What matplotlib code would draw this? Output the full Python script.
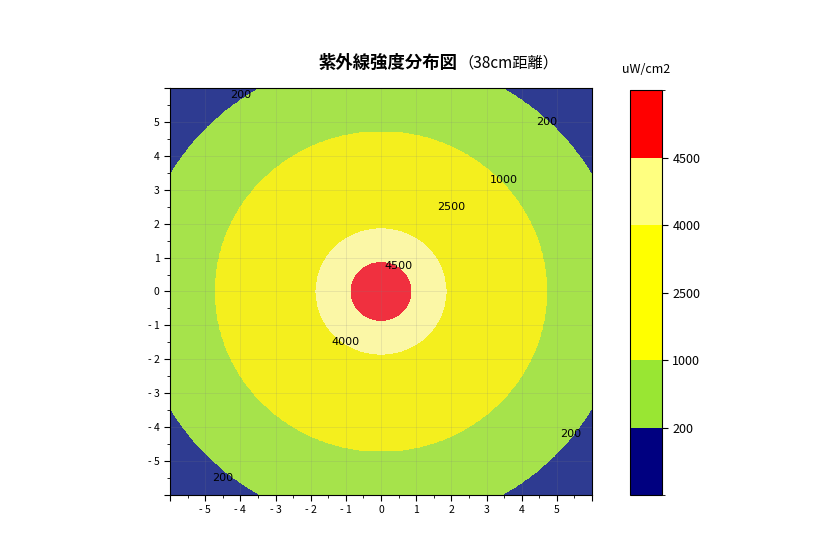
import numpy as np
import matplotlib
matplotlib.use("Agg")
import matplotlib.pyplot as plt
from matplotlib.colors import ListedColormap, BoundaryNorm
from matplotlib.ticker import FuncFormatter, MultipleLocator

plt.rcParams['font.family'] = ['Noto Sans CJK JP', 'DejaVu Sans']

# radial intensity profile (distance -> uW/cm2)
radius = [0.0, 0.85, 1.85, 3.3, 4.7, 6.9, 9.0]
intensity = [5000, 4500, 4000, 2500, 1000, 200, 0]
levels = [0, 200, 1000, 2500, 4000, 4500, 5000]
tick_levels = [200, 1000, 2500, 4000, 4500]
fill_colors = ['#2e3b91', '#a6e34b', '#f4ef1e', '#f4ef1e', '#fbf7a6', '#f0303f']
bar_colors = ['#000080', '#99e633', '#ffff00', '#ffff00', '#ffff80', '#ff0000']
labels = [('200', -4.0, 5.8), ('200', 4.7, 5.0), ('200', -4.5, -5.5), ('200', 5.4, -4.2),
          ('1000', 3.5, 3.3), ('2500', 2.0, 2.5), ('4500', 0.5, 0.75), ('4000', -1.0, -1.5)]

x = np.linspace(-6, 6, 241)
X, Y = np.meshgrid(x, x)
Z = np.interp(np.hypot(X, Y), radius, intensity)

fig = plt.figure(figsize=(8.4, 5.6), dpi=100)
ax = fig.add_axes([0.2024, 0.116, 0.5024, 0.727])
ax.contourf(X, Y, Z, levels=levels, colors=fill_colors)
ax.set_xlim(-6, 6)
ax.set_ylim(-6, 6)
for t, lx, ly in labels:
    ax.text(lx, ly, t, fontsize=8, ha='center', va='center', family='DejaVu Sans')


def tick_fmt(v, p):
    if abs(v) > 5.5:
        return ''
    return ('- %d' % abs(v)) if v < -0.1 else '%d' % round(v)


for a in (ax.xaxis, ax.yaxis):
    a.set_major_locator(MultipleLocator(1))
    a.set_minor_locator(MultipleLocator(0.5))
    a.set_major_formatter(FuncFormatter(tick_fmt))
ax.tick_params(which='both', direction='out', labelsize=7.5, length=4)
ax.tick_params(which='minor', length=2)
ax.grid(True, color='#808080', alpha=0.18, linewidth=0.6)

fig.text(0.544, 0.888, '紫外線強度分布図', fontsize=12.5, fontweight='bold', ha='right', va='center')
fig.text(0.546, 0.888, '（38cm距離）', fontsize=11, ha='left', va='center')

cax = fig.add_axes([0.75, 0.116, 0.038, 0.723])
cmap = ListedColormap(bar_colors)
norm = BoundaryNorm(levels, cmap.N)
sm = plt.cm.ScalarMappable(norm=norm, cmap=cmap)
cb = fig.colorbar(sm, cax=cax, spacing='uniform', ticks=tick_levels)
cb.ax.tick_params(labelsize=9, direction='out', length=4)
cb.outline.set_linewidth(0.8)
cax.set_title('uW/cm2', fontsize=9, pad=12)

fig.savefig('out.png', dpi=100)
